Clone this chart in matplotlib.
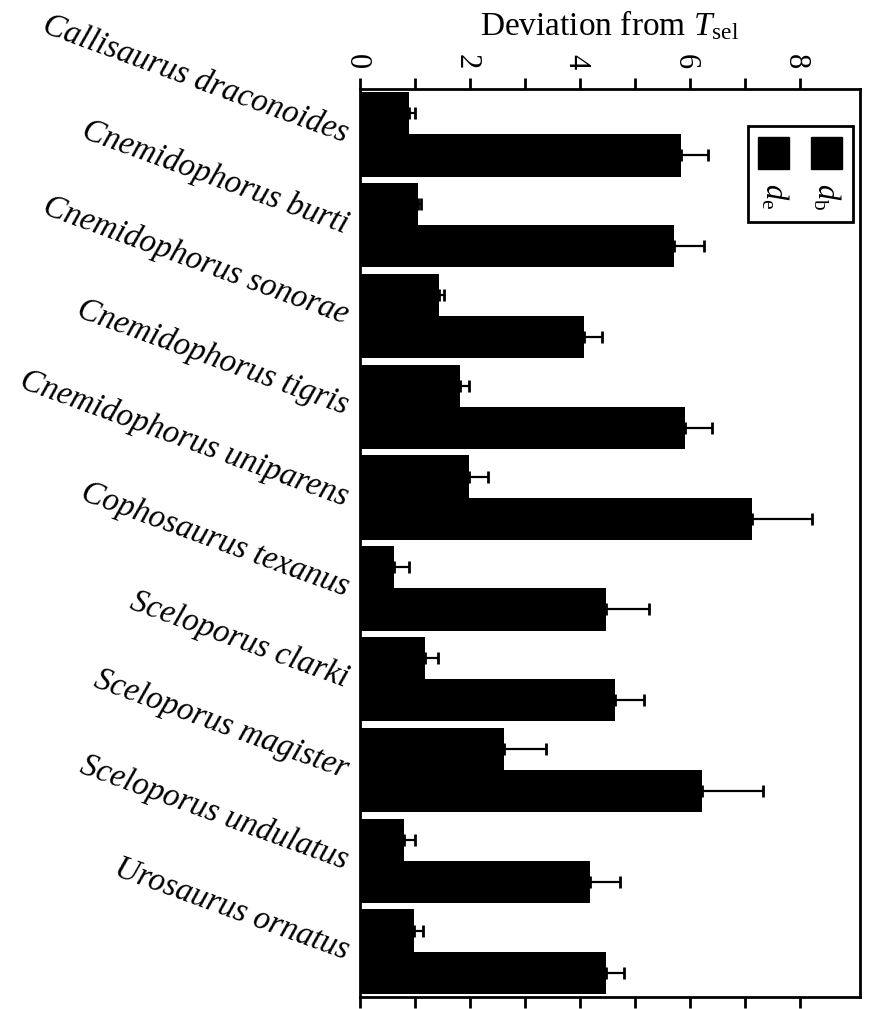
import numpy as np
import matplotlib
matplotlib.use("Agg")
import matplotlib.pyplot as plt
from matplotlib.patches import Rectangle
from matplotlib.transforms import ScaledTranslation

plt.rcParams['font.family'] = ['Liberation Serif', 'DejaVu Serif']
plt.rcParams['mathtext.fontset'] = 'custom'
plt.rcParams['mathtext.rm'] = 'Liberation Serif'
plt.rcParams['mathtext.it'] = 'Liberation Serif:italic'

species = ["Callisaurus draconoides", "Cnemidophorus burti", "Cnemidophorus sonorae",
           "Cnemidophorus tigris", "Cnemidophorus uniparens", "Cophosaurus texanus",
           "Sceloporus clarki", "Sceloporus magister", "Sceloporus undulatus",
           "Urosaurus ornatus"]
# d_b (upper bar of each pair) and d_e (lower bar)
db = [0.89, 1.05, 1.44, 1.82, 1.99, 0.62, 1.18, 2.62, 0.80, 0.99]
db_err = [0.11, 0.06, 0.08, 0.16, 0.34, 0.28, 0.24, 0.76, 0.21, 0.16]
de = [5.85, 5.71, 4.07, 5.91, 7.14, 4.47, 4.64, 6.23, 4.18, 4.48]
de_err = [0.48, 0.55, 0.33, 0.49, 1.08, 0.79, 0.53, 1.10, 0.56, 0.33]
xticks = [0, 2, 4, 6, 8]

fig = plt.figure(figsize=(8.74, 10.09), dpi=100)
ax = fig.add_axes([360/874, 1-997/1009, 500/874, 908/1009])

y = np.arange(len(species))
h = 0.465
off = 0.232
ax.barh(y - off, db, height=h, color='black')
ax.barh(y + off, de, height=h, color='black')
ax.errorbar(db, y - off, xerr=[np.zeros(len(db)), db_err], fmt='none',
            ecolor='black', elinewidth=1.6, capsize=4.3, capthick=2)
ax.errorbar(de, y + off, xerr=[np.zeros(len(de)), de_err], fmt='none',
            ecolor='black', elinewidth=1.6, capsize=4.3, capthick=2)

ax.set_xlim(0, 9.1)
ax.set_ylim(len(species) - 0.5, -0.5)

ax.xaxis.set_ticks_position('both')
ax.xaxis.set_label_position('top')
ax.set_xticks(xticks)
ax.set_xticks([1, 3, 5, 7], minor=True)
ax.tick_params(axis='x', which='both', direction='out', length=8, width=2,
               labeltop=True, labelbottom=False, pad=6, labelsize=22, labelrotation=-90)
# nudge the rotated digits so they sit centred on their ticks
shift = ScaledTranslation(-4/100, 0, fig.dpi_scale_trans)
for lab in ax.get_xticklabels():
    lab.set_transform(lab.get_transform() + shift)
ax.set_xlabel(r'Deviation from $T_{\rm sel}$', fontsize=24, labelpad=14)

ax.set_yticks(y)
ax.set_yticklabels(species, rotation=-20, ha='right', va='center',
                   rotation_mode='anchor', fontsize=23.5, style='italic')
ax.tick_params(axis='y', length=0, pad=9)

for s in ax.spines.values():
    s.set_linewidth(2)

# legend box drawn by hand, rotated like the rest of the figure
ax.add_patch(Rectangle((0.776, 0.8535), 0.21, 0.1055, transform=ax.transAxes,
                       fill=False, edgecolor='black', linewidth=2, zorder=5))
ax.add_patch(Rectangle((0.796, 0.912), 0.062, 0.035, transform=ax.transAxes,
                       color='black', zorder=5))
ax.add_patch(Rectangle((0.902, 0.912), 0.062, 0.035, transform=ax.transAxes,
                       color='black', zorder=5))
ax.text(0.828, 0.882, r'$d_{\rm e}$', transform=ax.transAxes, rotation=-90,
        ha='center', va='center', fontsize=22)
ax.text(0.932, 0.882, r'$d_{\rm b}$', transform=ax.transAxes, rotation=-90,
        ha='center', va='center', fontsize=22)

fig.savefig('out.png', dpi=100)
